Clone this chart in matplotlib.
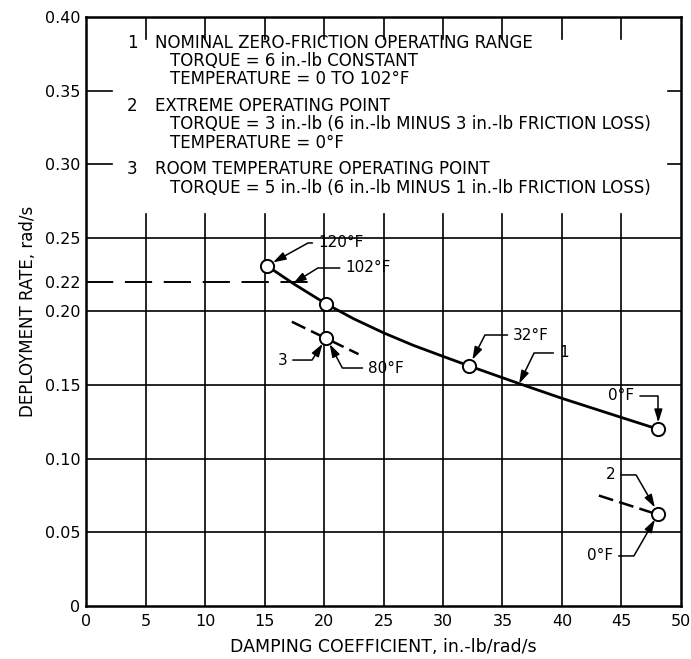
import matplotlib
matplotlib.use("Agg")
import matplotlib.pyplot as plt

plt.rcParams['font.family'] = ['DejaVu Sans']

# ---- data ----
x_ticks = [0, 5, 10, 15, 20, 25, 30, 35, 40, 45, 50]
y_ticks = [0, 0.05, 0.10, 0.15, 0.20, 0.22, 0.25, 0.30, 0.35, 0.40]
y_tick_labels = ['0', '0.05', '0.10', '0.15', '0.20', '0.22', '0.25', '0.30', '0.35', '0.40']
grid_y = [0.05, 0.10, 0.15, 0.20, 0.25]
stub_y = [0.30, 0.35]

# curve 1 (nominal zero-friction operating range)
curve_x = [15.2, 17.5, 20.2, 22.5, 25.0, 27.5, 30.0, 32.2, 36.4, 40.0, 45.0, 48.1]
curve_y = [0.231, 0.2185, 0.205, 0.195, 0.1855, 0.177, 0.1695, 0.163, 0.151, 0.141, 0.128, 0.120]

# marked operating points
pt_x = [15.2, 20.2, 32.2, 48.1, 20.2, 48.1]
pt_y = [0.231, 0.205, 0.163, 0.120, 0.182, 0.0628]

# dashed segments through points 3 and 2, and the 0.22 reference
dash3_x = [17.3, 22.9]
dash3_y = [0.193, 0.171]
dash2_x = [43.1, 48.1]
dash2_y = [0.075, 0.062]
ref_x = [0, 18.9]
ref_y = [0.22, 0.22]

# callouts: label, target point, label position, angle of the slanted leg, shrink at target
callouts = [
    ('120°F', (15.2, 0.231), (21.4, 0.2465), 29, 5),
    ('102°F', (17.4, 0.219), (23.7, 0.2295), 32, 0),
    ('3', (20.2, 0.182), (16.5, 0.167), 57, 5),
    ('80°F', (20.2, 0.182), (25.2, 0.1616), 118, 5),
    ('32°F', (32.2, 0.163), (37.4, 0.184), 63, 5),
    ('1', (36.4, 0.151), (40.15, 0.1718), 64, 0),
    ('0°F', (48.1, 0.120), (45.0, 0.1426), 90, 5),
    ('2', (48.1, 0.0628), (44.1, 0.089), 120, 5),
    ('0°F', (48.1, 0.0628), (43.2, 0.034), 60, 5),
]

# legend block text
notes = [
    ('1', 'NOMINAL ZERO-FRICTION OPERATING RANGE',
     ['TORQUE = 6 in.-lb CONSTANT', 'TEMPERATURE = 0 TO 102°F']),
    ('2', 'EXTREME OPERATING POINT',
     ['TORQUE = 3 in.-lb (6 in.-lb MINUS 3 in.-lb FRICTION LOSS)', 'TEMPERATURE = 0°F']),
    ('3', 'ROOM TEMPERATURE OPERATING POINT',
     ['TORQUE = 5 in.-lb (6 in.-lb MINUS 1 in.-lb FRICTION LOSS)']),
]

fig = plt.figure(figsize=(6.91, 6.59), dpi=100)
ax = fig.add_axes([0.1245, 0.0804, 0.861, 0.894])
ax.set_xlim(0, 50)
ax.set_ylim(0, 0.40)

# grid: full below the notes, short stubs above
for xv in x_ticks[1:-1]:
    ax.axvline(xv, ymin=0, ymax=0.266 / 0.40, color='black', lw=1.2, zorder=1)
    ax.axvline(xv, ymin=0.385 / 0.40, ymax=1, color='black', lw=1.2, zorder=1)
for yv in grid_y:
    ax.axhline(yv, color='black', lw=1.2, zorder=1)
for yv in stub_y:
    ax.axhline(yv, xmin=0, xmax=0.044, color='black', lw=1.2, zorder=1)
    ax.axhline(yv, xmin=0.978, xmax=1, color='black', lw=1.2, zorder=1)

ax.plot(ref_x, ref_y, color='black', lw=1.4, dashes=(14, 6), zorder=2)
ax.plot(dash3_x, dash3_y, color='black', lw=1.8, dashes=(6, 2.5), zorder=2)
ax.plot(dash2_x, dash2_y, color='black', lw=1.8, dashes=(6, 2.5), zorder=2)
ax.plot(curve_x, curve_y, color='black', lw=2.0, zorder=3)
ax.plot(pt_x, pt_y, 'o', ms=9.5, mfc='white', mec='black', mew=1.4, zorder=4, ls='none')

for label, xy, xytext, ang, shrink in callouts:
    ax.annotate(label, xy=xy, xytext=xytext, ha='center', va='center', fontsize=11,
                arrowprops=dict(arrowstyle='-|>,head_length=0.7,head_width=0.22',
                                connectionstyle='angle,angleA=0,angleB=%d,rad=0' % ang,
                                color='black', lw=1.1, shrinkA=2, shrinkB=shrink),
                zorder=5)

# notes block (axes fraction positions)
y_line = 0.956
for num, head, lines in notes:
    ax.text(0.069, y_line, num, transform=ax.transAxes, fontsize=12, va='center')
    ax.text(0.116, y_line, head, transform=ax.transAxes, fontsize=12, va='center')
    y_line -= 0.031
    for ln in lines:
        ax.text(0.141, y_line, ln, transform=ax.transAxes, fontsize=12, va='center')
        y_line -= 0.031
    y_line -= 0.0145

ax.set_xticks(x_ticks)
ax.set_yticks(y_ticks)
ax.set_yticklabels(y_tick_labels)
ax.tick_params(length=0, labelsize=11.5)
ax.tick_params(axis='x', pad=6)
ax.tick_params(axis='y', pad=4)
for s in ax.spines.values():
    s.set_linewidth(1.8)

ax.set_xlabel('DAMPING COEFFICIENT, in.-lb/rad/s', fontsize=12.5, labelpad=6)
ax.set_ylabel('DEPLOYMENT RATE, rad/s', fontsize=12, labelpad=6)

fig.savefig('out.png', dpi=100)
